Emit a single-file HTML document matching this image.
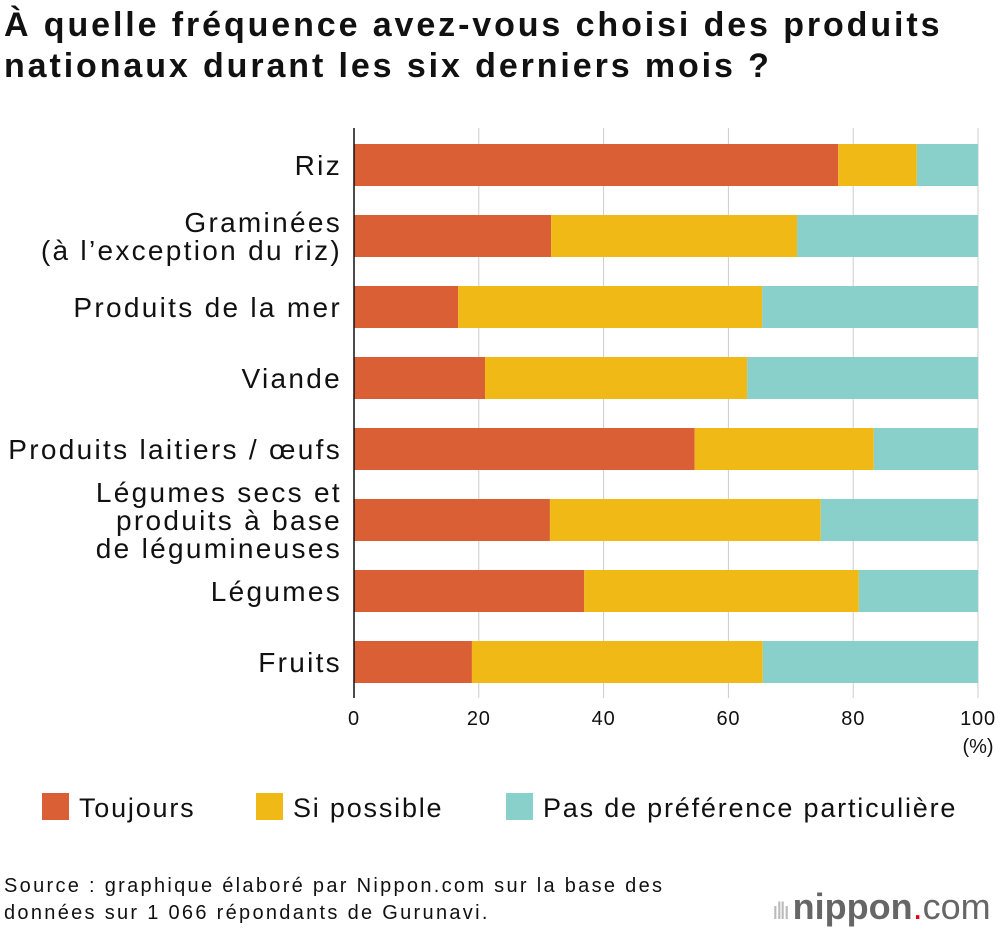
<!DOCTYPE html>
<html><head><meta charset="utf-8"><style>
body{margin:0;width:1000px;height:930px;background:#fff;font-family:"Liberation Sans",sans-serif;overflow:hidden;position:relative}
.t{position:absolute;color:#111;white-space:nowrap}
</style></head><body>
<div class="t" style="left:4px;top:5px;font-size:34px;font-weight:bold;line-height:41px;letter-spacing:2.9px">À quelle fréquence avez-vous choisi des produits<br>nationaux durant les six derniers mois ?</div>
<svg id="c" width="1000" height="930" style="position:absolute;left:0;top:0"></svg>
<div class="t" style="left:4px;top:873px;font-size:20px;line-height:27px;letter-spacing:2.3px">Source : graphique élaboré par Nippon.com sur la base des<br>données sur 1 066 répondants de Gurunavi.</div>
<div style="position:absolute;left:772px;top:887px;font-size:36px;color:#666;line-height:40px;white-space:nowrap"><span style="color:#bbb;font-size:24px;letter-spacing:-2px">ıllı </span><b>nippon</b><span style="color:#e60012">.</span>com</div>
<script>
const categories=[["Riz"],["Graminées","(à l’exception du riz)"],["Produits de la mer"],["Viande"],["Produits laitiers / œufs"],["Légumes secs et","produits à base","de légumineuses"],["Légumes"],["Fruits"]];
const toujours=[77.6,31.6,16.7,21.0,54.6,31.4,36.9,18.9];
const sipossible=[12.6,39.4,48.7,42.0,28.7,43.4,44.0,46.6];
const pasdepref=[9.8,29.0,34.6,37.0,16.7,25.2,19.1,34.5];
const ticks=[0,20,40,60,80,100];
const seriesNames=["Toujours","Si possible","Pas de préférence particulière"];
const colors=["#db5f34","#f1b916","#89cfca"];
const svg=document.getElementById('c');const NS="http://www.w3.org/2000/svg";
const x0=354,x1=978,y0=128,pitch=71,bh=42;
const X=v=>x0+(x1-x0)*v/100;
function mk(t,a,p){const e=document.createElementNS(NS,t);for(const k in a)e.setAttribute(k,a[k]);(p||svg).appendChild(e);return e;}
ticks.forEach(t=>{if(t>0){const g=mk('line',{x1:X(t),x2:X(t),y1:y0,y2:698,stroke:'#ccc','stroke-width':1});

}
const l=mk('text',{x:X(t),y:725,'text-anchor':'middle','font-size':20,fill:'#111','letter-spacing':0.8});l.textContent=t;

});
const u=mk('text',{x:978,y:753,'text-anchor':'middle','font-size':20,fill:'#111'});u.textContent='(%)';


const series=[toujours,sipossible,pasdepref];
categories.forEach((c,i)=>{const cy=y0+16+i*pitch+bh/2;let acc=0;
series.forEach((s,j)=>{const r=mk('rect',{x:X(acc),y:cy-bh/2,width:X(acc+s[i])-X(acc),height:bh,fill:colors[j]});

acc+=s[i];});
const n=c.length;c.forEach((line,k)=>{const t=mk('text',{x:342,y:cy+10+(k-(n-1)/2)*28,'text-anchor':'end','font-size':28,fill:'#111','letter-spacing':2.3});t.textContent=line;

});});
const ax=mk('line',{x1:x0,x2:x0,y1:y0,y2:698,stroke:'#111','stroke-width':1.5});


const lx=[42,256,506];
seriesNames.forEach((n,j)=>{const r=mk('rect',{x:lx[j],y:793,width:27,height:27,fill:colors[j]});


const t=mk('text',{x:lx[j]+37,y:817,'font-size':27,fill:'#111','letter-spacing':1.8});t.textContent=n;

});
</script>
</body></html>
